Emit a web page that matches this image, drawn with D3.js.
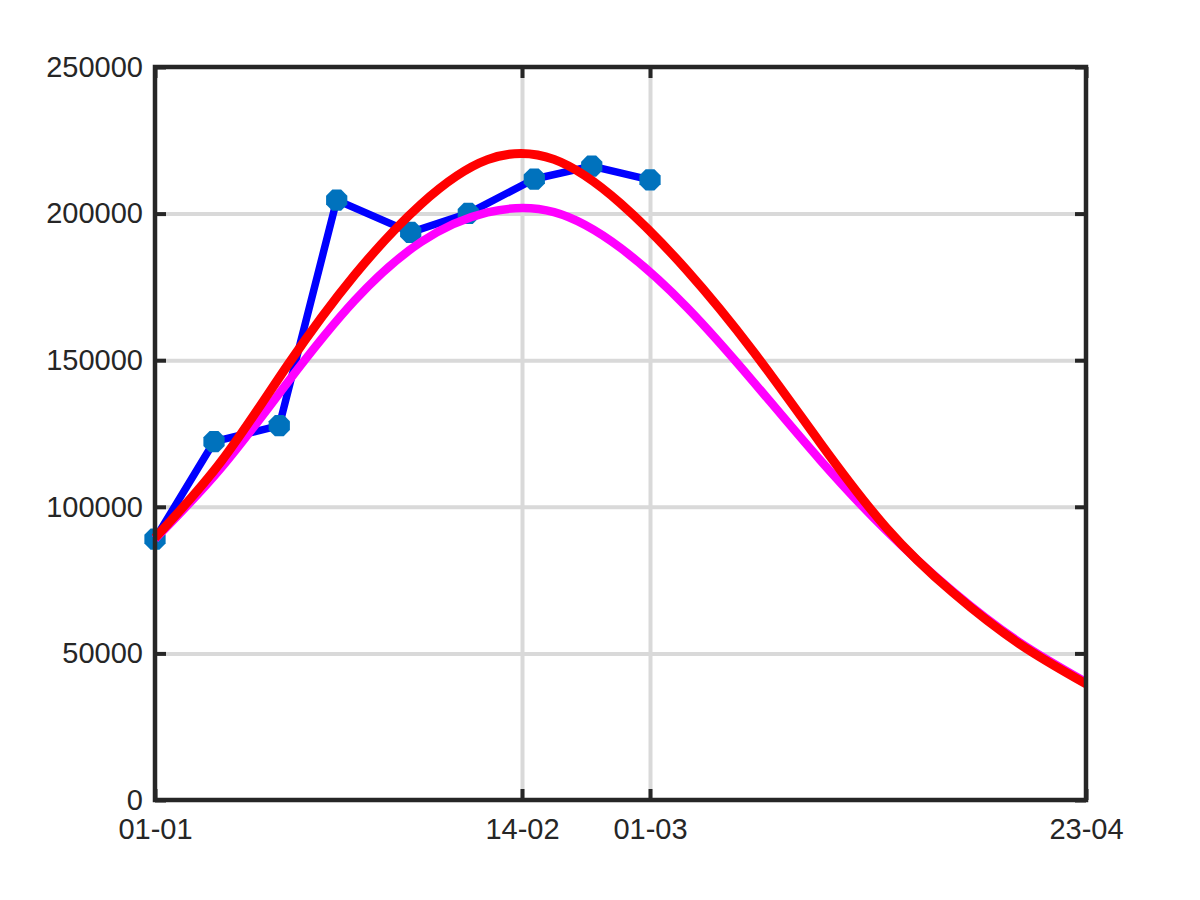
<!DOCTYPE html>
<html>
<head>
<meta charset="utf-8">
<script src="https://cdn.jsdelivr.net/npm/d3@7"></script>
<style>
    body { margin: 0; background: #fff; }
    text { font-family: "Liberation Sans", Arial, sans-serif; fill: #262626; }
</style>
</head>
<body>
<div id="chart"></div>
<script>
// x values are days since 01-01
const tickDays = [0, 44.15, 59.55, 112]
const tickLabels = ['01-01', '14-02', '01-03', '23-04']
const yTicks = [0, 50000, 100000, 150000, 200000, 250000]

// observed data (blue)
const obsDays = [0, 7.1, 14.95, 21.86, 30.76, 37.69, 45.63, 52.54, 59.55]
const obsValues = [89000, 122200, 127700, 204600, 193600, 200100, 211800, 216200, 211500]

// fitted curves, read every 8 days
const fitDays = [0, 8, 16, 24, 32, 40, 48, 56, 64, 72, 80, 88, 96, 104, 112]
const fitAValues = [89000, 113400, 142600, 170300, 190300, 200400, 200500, 188300, 168000, 142600, 116000, 91800, 71100, 53800, 40200]
const fitBValues = [89400, 115600, 148500, 179000, 203200, 218400, 218500, 203500, 180600, 152900, 121900, 92800, 70700, 53200, 39600]

const W = 1200, H = 900
const margin = { top: 67, right: 114, bottom: 100, left: 155 }
const width = W - margin.left - margin.right
const height = H - margin.top - margin.bottom

const svg = d3.select('#chart')
.append('svg')
    .attr('width', W)
    .attr('height', H)
.append('g')
    .attr('transform', `translate(${margin.left},${margin.top})`)

const xScale = d3.scaleLinear().domain([0, 112]).range([0, width])
const yScale = d3.scaleLinear().domain([0, 250000]).range([height, 0])

const gridColor = '#d9d9d9'
const axisColor = '#262626'

// grid
svg.append('g')
    .attr('transform', `translate(0,${height})`)
    .call(d3.axisBottom(xScale).tickValues(tickDays.slice(1, -1)).tickSize(-height).tickFormat(''))
    .call((g) => g.select('.domain').remove())
    .call((g) => g.selectAll('line').attr('stroke', gridColor).attr('stroke-width', 4))
svg.append('g')
    .call(d3.axisLeft(yScale).tickValues(yTicks.slice(1, -1)).tickSize(-width).tickFormat(''))
    .call((g) => g.select('.domain').remove())
    .call((g) => g.selectAll('line').attr('stroke', gridColor).attr('stroke-width', 4))

// axes with inward ticks on all sides
const styleAxis = (g) => {
    g.select('.domain').remove()
    g.selectAll('line').attr('stroke', axisColor).attr('stroke-width', 4)
    g.selectAll('text').style('font-size', '29px').attr('fill', axisColor)
}
svg.append('g')
    .attr('transform', `translate(0,${height})`)
    .call(d3.axisBottom(xScale).tickValues(tickDays).tickSizeInner(-11).tickSizeOuter(0)
        .tickPadding(18).tickFormat((d, i) => tickLabels[i]))
    .call(styleAxis)
svg.append('g')
    .call(d3.axisTop(xScale).tickValues(tickDays).tickSizeInner(-11).tickSizeOuter(0).tickFormat(''))
    .call(styleAxis)
svg.append('g')
    .call(d3.axisLeft(yScale).tickValues(yTicks).tickSizeInner(-11).tickSizeOuter(0)
        .tickPadding(12).tickFormat(d3.format('d')))
    .call(styleAxis)
svg.append('g')
    .attr('transform', `translate(${width},0)`)
    .call(d3.axisRight(yScale).tickValues(yTicks).tickSizeInner(-11).tickSizeOuter(0).tickFormat(''))
    .call(styleAxis)

const line = d3.line()
    .x((d) => xScale(d[0]))
    .y((d) => yScale(d[1]))

// observed series
const obs = d3.zip(obsDays, obsValues)
svg.append('path')
    .datum(obs)
    .attr('d', line)
    .attr('fill', 'none')
    .attr('stroke', '#0000ff')
    .attr('stroke-width', 7.5)
    .attr('stroke-linejoin', 'round')

const octagon = (r) => {
    const pts = d3.range(8).map((i) => {
        const a = Math.PI / 8 + i * Math.PI / 4
        return [r * Math.cos(a), r * Math.sin(a)]
    })
    return 'M' + pts.join('L') + 'Z'
}
svg.selectAll()
    .data(obs)
    .enter()
    .append('path')
        .attr('d', octagon(11.5))
        .attr('transform', (d) => `translate(${xScale(d[0])},${yScale(d[1])})`)
        .attr('fill', '#0072bd')

const smooth = d3.line()
    .x((d) => xScale(d[0]))
    .y((d) => yScale(d[1]))
    .curve(d3.curveNatural)

svg.append('path')
    .datum(d3.zip(fitDays, fitAValues))
    .attr('d', smooth)
    .attr('fill', 'none')
    .attr('stroke', '#ff00ff')
    .attr('stroke-width', 8.5)

svg.append('path')
    .datum(d3.zip(fitDays, fitBValues))
    .attr('d', smooth)
    .attr('fill', 'none')
    .attr('stroke', '#ff0000')
    .attr('stroke-width', 9)

// box
svg.append('rect')
    .attr('width', width)
    .attr('height', height)
    .attr('fill', 'none')
    .attr('stroke', axisColor)
    .attr('stroke-width', 4.5)
</script>
</body>
</html>
